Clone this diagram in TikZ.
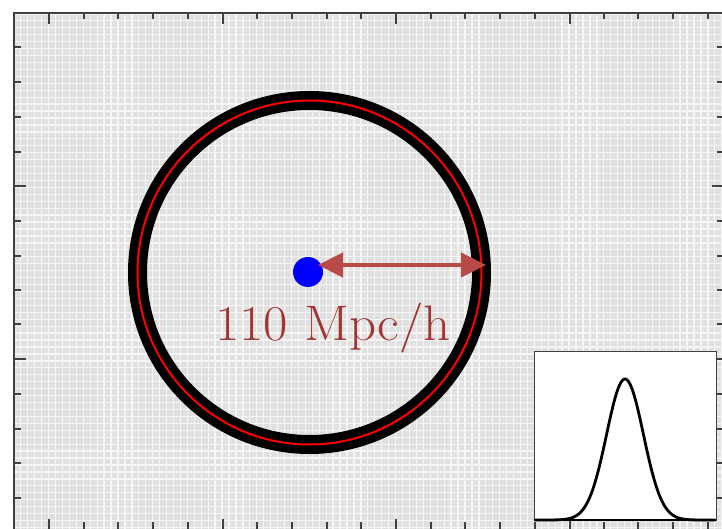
\documentclass[tikz,border=0pt]{standalone}
\usepackage{graphicx}
\usetikzlibrary{arrows.meta}
\definecolor{cellgray}{RGB}{224,224,224}
\definecolor{axisgray}{RGB}{64,64,64}
\definecolor{arrowred}{RGB}{184,74,72}
\definecolor{labelred}{RGB}{163,52,52}
\begin{document}
\begin{tikzpicture}[x=1pt, y=-1pt,
    point/.style = {circle, fill = blue, inner sep = 0pt, minimum size = 30pt},
    tickmark/.style = {draw = axisgray, line width = 1.5pt}]
    \tikzstyle{help line}=[white!96!black, line width=1.3pt]
    \clip (0,0) rectangle (722,529);
    \fill[white] (0,0) rectangle (722,529);
    \fill[cellgray] (14,13) rectangle (722,529);
    \draw[style=help line, step=6.94pt] (14,13) grid (722,529);
    % axes and ticks
    \draw[axisgray, line width=2pt] (14,529) -- (14,13) -- (722,13);
    \foreach \x in {84,118,153,188,257,292,327,361,431,465,500,535,604,638,673,708} {
        \draw[tickmark] (\x,13) -- (\x,19);
        \draw[tickmark] (\x,529) -- (\x,522);
    }
    \foreach \x in {49,223,396,570} {
        \draw[tickmark] (\x,13) -- (\x,24);
        \draw[tickmark] (\x,529) -- (\x,519);
    }
    \foreach \y in {47,82,117,152,221,256,290,324,394,429,463,498} {
        \draw[tickmark] (14,\y) -- (21,\y);
        \draw[tickmark] (722,\y) -- (717,\y);
    }
    \foreach \y in {186,359} {
        \draw[tickmark] (14,\y) -- (26,\y);
        \draw[tickmark] (722,\y) -- (712,\y);
    }
    % shell
    \draw[black, line width=19pt] (309.5,272.5) circle (172);
    \draw[red, line width=2pt] (309.5,272.5) circle (172);
    \node (centre) at (308,272) [point] {};
    \coordinate (tail) at (318,265);
    \coordinate (edge) at (486,265);
    \draw[arrowred, line width=4.5pt, {Triangle[length=25pt,width=24pt]}-{Triangle[length=25pt,width=24pt]}] (tail) -- (edge);
    \node (radius) at (333,340) [anchor=base, text=labelred, font=\fontsize{50}{54}\selectfont] {\scalebox{1.06}[1]{110 Mpc/h}};
    % inset
    \draw[axisgray, fill=white, line width=1pt] (534,351) rectangle (716,520);
    \draw[black, line width=2.5pt] (534,520) -- (716,520);
    \draw[black, line width=2.8pt, domain=535:715, samples=120] plot (\x, {520 - 141*exp(-((\x-625)^2)/680)});
\end{tikzpicture}
\end{document}
